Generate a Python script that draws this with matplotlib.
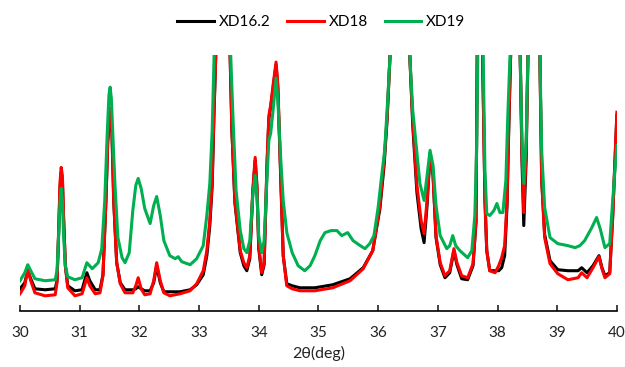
import numpy as np
import matplotlib
matplotlib.use('Agg')
import matplotlib.pyplot as plt

plt.rcParams['font.family'] = ['Lato', 'DejaVu Sans']

# XD19 (green)
two_theta_19 = [30.00, 30.08, 30.13, 30.18, 30.25, 30.42, 30.59, 30.62, 30.65, 30.67, 30.69, 30.71,
                30.73, 30.76, 30.80, 30.92, 31.04, 31.12, 31.21, 31.31, 31.37, 31.42, 31.46, 31.49,
                31.51, 31.53, 31.56, 31.59, 31.64, 31.71, 31.76, 31.83, 31.89, 31.94, 31.98, 32.03,
                32.09, 32.18, 32.24, 32.29, 32.35, 32.41, 32.51, 32.60, 32.65, 32.71, 32.85, 32.96,
                33.07, 33.13, 33.18, 33.22, 33.25, 33.37, 33.53, 33.57, 33.62, 33.69, 33.75, 33.80,
                33.85, 33.90, 33.94, 33.97, 34.00, 34.05, 34.09, 34.14, 34.17, 34.20, 34.24, 34.29,
                34.32, 34.36, 34.41, 34.47, 34.56, 34.66, 34.77, 34.86, 34.94, 35.03, 35.11, 35.21,
                35.31, 35.39, 35.49, 35.58, 35.70, 35.78, 35.86, 35.93, 36.00, 36.06, 36.11, 36.16,
                36.20, 36.37, 36.53, 36.58, 36.63, 36.70, 36.77, 36.82, 36.87, 36.92, 36.97, 37.04,
                37.15, 37.20, 37.25, 37.30, 37.37, 37.50, 37.57, 37.62, 37.65, 37.67, 37.70, 37.76,
                37.79, 37.82, 37.87, 37.94, 37.99, 38.04, 38.09, 38.14, 38.17, 38.21, 38.29, 38.38,
                38.41, 38.44, 38.48, 38.51, 38.61, 38.71, 38.74, 38.79, 38.88, 39.01, 39.18, 39.30,
                39.38, 39.46, 39.58, 39.66, 39.72, 39.80, 39.88, 39.93, 40.00]
xd19 = [30, 38, 46, 40, 32, 30, 31, 40, 78, 108, 122, 110,
        75, 45, 34, 31, 33, 48, 42, 48, 62, 110, 175, 215,
        223, 212, 170, 127, 73, 53, 48, 58, 100, 125, 132, 122,
        102, 87, 105, 114, 95, 70, 55, 52, 54, 49, 46, 52,
        65, 95, 127, 180, 250, 700, 255, 190, 120, 80, 62, 58,
        70, 115, 135, 115, 75, 58, 70, 135, 170, 177, 200, 232,
        210, 160, 110, 78, 58, 45, 40, 45, 55, 70, 78, 80,
        80, 75, 78, 70, 65, 62, 67, 75, 103, 135, 160, 210,
        255, 800, 255, 200, 170, 127, 110, 135, 160, 145, 105, 75,
        62, 65, 75, 65, 60, 53, 60, 95, 160, 255, 900, 255,
        140, 97, 95, 100, 107, 98, 98, 130, 190, 255, 700, 255,
        170, 127, 170, 255, 700, 255, 160, 103, 73, 67, 65, 63,
        65, 70, 83, 93, 82, 63, 67, 110, 165]

# XD18 (red) and XD16.2 (black) share the same angle grid
two_theta = [30.00, 30.08, 30.13, 30.18, 30.25, 30.42, 30.59, 30.62, 30.65, 30.67, 30.69, 30.71,
             30.73, 30.76, 30.80, 30.92, 31.04, 31.12, 31.17, 31.26, 31.34, 31.39, 31.44, 31.47,
             31.51, 31.54, 31.57, 31.62, 31.68, 31.76, 31.89, 31.94, 31.98, 32.03, 32.09, 32.18,
             32.24, 32.29, 32.35, 32.41, 32.51, 32.68, 32.85, 32.96, 33.07, 33.13, 33.18, 33.22,
             33.25, 33.28, 33.37, 33.52, 33.55, 33.60, 33.69, 33.75, 33.80, 33.85, 33.90, 33.94,
             33.97, 34.00, 34.05, 34.09, 34.14, 34.17, 34.20, 34.24, 34.29, 34.32, 34.36, 34.41,
             34.47, 34.56, 34.69, 34.94, 35.24, 35.53, 35.75, 35.91, 36.03, 36.10, 36.15, 36.20,
             36.37, 36.53, 36.58, 36.65, 36.72, 36.77, 36.82, 36.87, 36.92, 36.97, 37.04, 37.12,
             37.20, 37.27, 37.32, 37.40, 37.50, 37.59, 37.64, 37.66, 37.70, 37.75, 37.79, 37.82,
             37.87, 37.96, 38.02, 38.07, 38.12, 38.16, 38.19, 38.22, 38.29, 38.38, 38.41, 38.44,
             38.48, 38.51, 38.61, 38.71, 38.74, 38.79, 38.88, 39.01, 39.18, 39.35, 39.41, 39.50,
             39.60, 39.70, 39.75, 39.80, 39.88, 39.93, 40.00]
xd18 = [17, 25, 42, 30, 18, 15, 16, 28, 85, 128, 143, 135,
        95, 45, 23, 15, 17, 33, 25, 17, 18, 35, 110, 170,
        202, 180, 110, 48, 27, 18, 18, 25, 33, 22, 16, 17,
        30, 48, 30, 18, 15, 17, 20, 27, 40, 60, 90, 130,
        200, 255, 800, 255, 180, 110, 60, 48, 43, 55, 120, 153,
        125, 65, 38, 48, 150, 195, 205, 225, 248, 225, 150, 55,
        25, 22, 20, 20, 23, 30, 42, 60, 105, 150, 193, 255,
        800, 255, 190, 125, 90, 77, 110, 157, 135, 75, 48, 35,
        40, 62, 48, 35, 33, 47, 90, 255, 900, 255, 110, 60,
        40, 38, 45, 53, 65, 110, 190, 255, 700, 255, 160, 98,
        160, 255, 700, 255, 130, 73, 47, 37, 31, 33, 38, 33,
        43, 54, 42, 33, 37, 93, 198]
xd16_2 = [22, 28, 40, 32, 22, 21, 22, 30, 82, 122, 138, 130,
          92, 45, 25, 20, 21, 38, 30, 21, 21, 36, 110, 168,
          200, 178, 110, 48, 28, 21, 21, 22, 24, 22, 20, 20,
          28, 45, 28, 19, 19, 19, 21, 26, 36, 55, 85, 125,
          195, 255, 800, 255, 180, 108, 58, 45, 40, 52, 118, 150,
          122, 62, 36, 46, 148, 192, 203, 222, 245, 222, 148, 55,
          27, 25, 23, 23, 26, 32, 43, 60, 102, 145, 190, 255,
          800, 255, 185, 118, 82, 68, 105, 157, 135, 73, 46, 33,
          38, 60, 46, 32, 31, 45, 88, 255, 900, 255, 110, 60,
          40, 40, 40, 43, 55, 105, 185, 255, 700, 255, 150, 85,
          150, 255, 700, 255, 132, 76, 50, 41, 40, 40, 43, 38,
          45, 55, 43, 35, 38, 95, 195]

x_ticks = [30, 31, 32, 33, 34, 35, 36, 37, 38, 39, 40]

fig = plt.figure(figsize=(6.25, 3.67), dpi=100)
ax = fig.add_axes([0.032, 0.153, 0.955, 0.697])

ax.plot(two_theta, xd16_2, color='black', lw=2.2, label='XD16.2')
ax.plot(two_theta, xd18, color='#ff0000', lw=2.2, label='XD18')
ax.plot(two_theta_19, xd19, color='#00b050', lw=2.2, label='XD19')

ax.set_xlim(30, 40)
ax.set_ylim(0, 255)
ax.set_xticks(x_ticks)
ax.set_yticks([])
for s in ['top', 'right', 'left']:
    ax.spines[s].set_visible(False)
ax.spines['bottom'].set_linewidth(1.2)
ax.tick_params(axis='x', direction='in', length=4, width=1.2, labelsize=11, pad=11, colors='#222222')
ax.set_xlabel('2θ(deg)', fontsize=11.5, labelpad=4, color='#222222')

fig.legend(loc='center', bbox_to_anchor=(0.514, 0.94), ncol=3, frameon=False, fontsize=11,
           handlelength=2.4, handletextpad=0.3, columnspacing=1.1)

fig.savefig('out.png', dpi=100)
